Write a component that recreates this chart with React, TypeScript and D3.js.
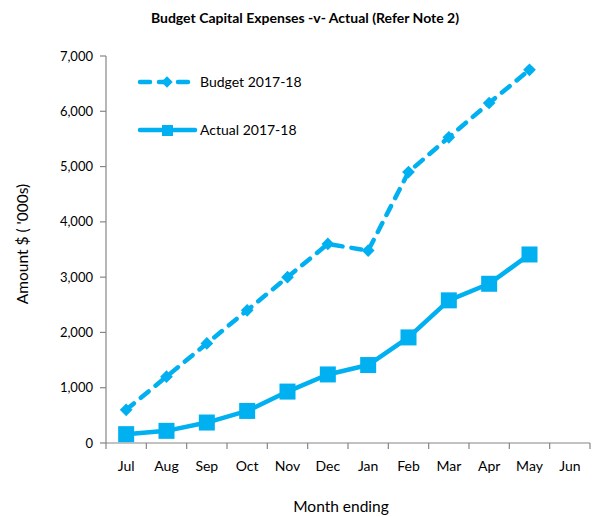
import React from "react";
import * as d3 from "d3";

const months = ["Jul", "Aug", "Sep", "Oct", "Nov", "Dec", "Jan", "Feb", "Mar", "Apr", "May", "Jun"];
const budget = [600, 1200, 1800, 2400, 3000, 3600, 3480, 4900, 5530, 6150, 6750];
const actual = [160, 220, 370, 580, 930, 1240, 1410, 1910, 2580, 2880, 3410];
const yTicks = [0, 1000, 2000, 3000, 4000, 5000, 6000, 7000];

const W = 593, H = 517;
const left = 106, right = 590, top = 56, bottom = 443;
const color = "#00B0F0";
const axisColor = "#868686";
const font = "Lato, 'Open Sans', sans-serif";

export default function App() {
  const x = d3.scaleBand<string>().domain(months).range([left, right]);
  const y = d3.scaleLinear().domain([0, 7000]).range([bottom, top]);
  const cx = (i: number) => (x(months[i]) as number) + x.bandwidth() / 2;
  const line = d3.line<number>().x((_, i) => cx(i)).y((d) => y(d));
  const fmt = d3.format(",");
  const bounds = months.map((m) => x(m) as number).concat([right]);

  return (
    <svg width={W} height={H} style={{ position: "absolute", left: 0, top: 0, background: "#fff" }}>
      <text x={305} y={23} textAnchor="middle" fontFamily={font} fontWeight="bold" fontSize={14} fill="#000">
        Budget Capital Expenses -v- Actual (Refer Note 2)
      </text>
      {/* y axis */}
      <line x1={left} x2={left} y1={top} y2={bottom} stroke={axisColor} strokeWidth={1.2} />
      {yTicks.map((t) => (
        <g key={t}>
          <line x1={left - 6} x2={left} y1={y(t)} y2={y(t)} stroke={axisColor} strokeWidth={1.2} />
          <text x={left - 13} y={y(t)} dy="0.35em" textAnchor="end" fontFamily={font} fontSize={13} fill="#000">
            {fmt(t)}
          </text>
        </g>
      ))}
      {/* x axis */}
      <line x1={left} x2={right} y1={bottom} y2={bottom} stroke={axisColor} strokeWidth={1.2} />
      {bounds.map((b, i) => (
        <line key={i} x1={b} x2={b} y1={bottom} y2={bottom + 6} stroke={axisColor} strokeWidth={1.2} />
      ))}
      {months.map((m, i) => (
        <text key={m} x={cx(i)} y={bottom + 28} textAnchor="middle" fontFamily={font} fontSize={14} fill="#000">
          {m}
        </text>
      ))}
      <text x={341} y={512} textAnchor="middle" fontFamily={font} fontSize={15.5} fill="#000">
        Month ending
      </text>
      <text transform={`translate(28,${244}) rotate(-90)`} textAnchor="middle" fontFamily={font} fontSize={15.5} fill="#000">
        Amount $ ( '000s)
      </text>

      {/* budget */}
      <path d={line(budget) as string} fill="none" stroke={color} strokeWidth={4.5} strokeDasharray="10 9" strokeLinecap="round" strokeLinejoin="round" />
      {budget.map((v, i) => (
        <rect key={i} x={cx(i) - 4.5} y={y(v) - 4.5} width={9} height={9} fill={color} transform={`rotate(45 ${cx(i)} ${y(v)})`} />
      ))}
      {/* actual */}
      <path d={line(actual) as string} fill="none" stroke={color} strokeWidth={4.5} strokeLinejoin="round" />
      {actual.map((v, i) => (
        <rect key={i} x={cx(i) - 8} y={y(v) - 8} width={16} height={16} fill={color} />
      ))}

      {/* legend */}
      <line x1={140} x2={190} y1={82} y2={82} stroke={color} strokeWidth={4.5} strokeDasharray="10 9" strokeLinecap="round" />
      <rect x={163} y={78} width={8} height={8} fill={color} transform={`rotate(45 167 82)`} />
      <text x={200} y={82} dy="0.35em" fontFamily={font} fontSize={14} fill="#000">Budget 2017-18</text>
      <line x1={140} x2={195} y1={130} y2={130} stroke={color} strokeWidth={4.5} strokeLinecap="round" />
      <rect x={162} y={125} width={11} height={11} fill={color} />
      <text x={200} y={130} dy="0.35em" fontFamily={font} fontSize={14} fill="#000">Actual 2017-18</text>
    </svg>
  );
}
